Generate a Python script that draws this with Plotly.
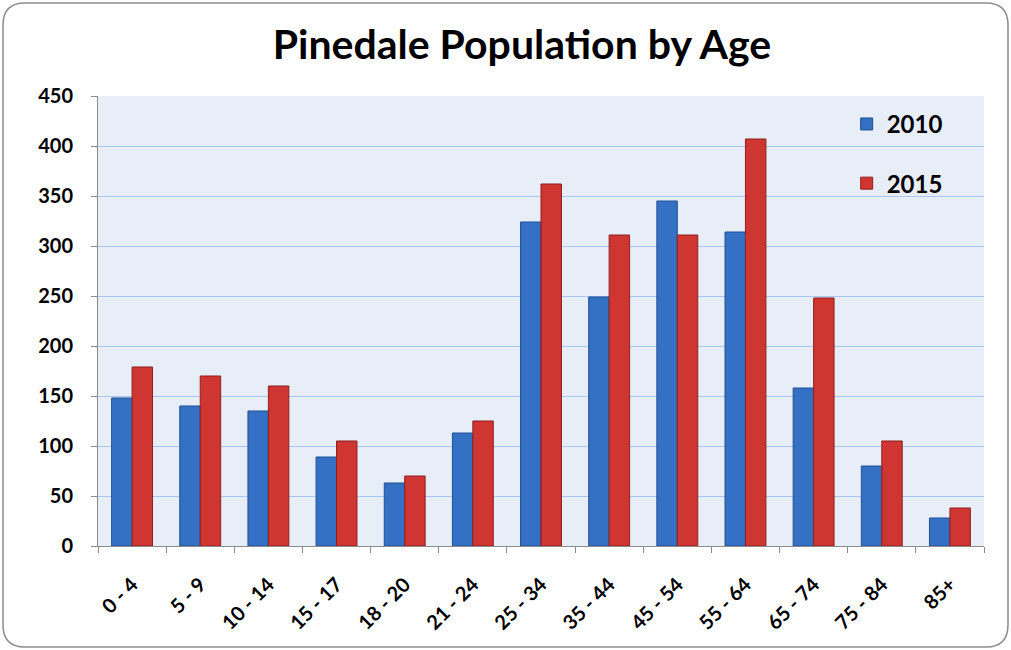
import plotly.graph_objects as go

# Population counts by age bracket
age_groups = ["0 - 4", "5 - 9", "10 - 14", "15 - 17", "18 - 20", "21 - 24", "25 - 34",
              "35 - 44", "45 - 54", "55 - 64", "65 - 74", "75 - 84", "85+"]
pop_2010 = [148, 140, 135, 89, 63, 113, 324, 249, 345, 314, 158, 80, 28]
pop_2015 = [179, 170, 160, 105, 70, 125, 362, 311, 311, 407, 248, 105, 38]
y_ticks = [0, 50, 100, 150, 200, 250, 300, 350, 400, 450]

W, H = 1011, 650
L, R, T, B = 98, 27, 96, 104
pw, ph = W - L - R, H - T - B

FONT = "Lato, 'Open Sans', sans-serif"

fig = go.Figure()
fig.add_trace(go.Bar(
    name="2010", x=age_groups, y=pop_2010, legendgroup="a",
    marker=dict(color="#3470c4", line=dict(color="#1f4f94", width=1)),
))
fig.add_trace(go.Bar(
    name="2015", x=age_groups, y=pop_2015, legendgroup="b",
    marker=dict(color="#cf3632", line=dict(color="#8f1f1d", width=1)),
))


def px(x):
    return (x - L) / pw


def py(y):
    return (H - B - y) / ph


# rounded outer frame of the chart, expressed in paper units
x0, x1, y0, y1, r = 3, 1008, 3, 647, 22
path = (
    f"M {px(x0 + r)},{py(y0)} L {px(x1 - r)},{py(y0)} "
    f"Q {px(x1)},{py(y0)} {px(x1)},{py(y0 + r)} "
    f"L {px(x1)},{py(y1 - r)} Q {px(x1)},{py(y1)} {px(x1 - r)},{py(y1)} "
    f"L {px(x0 + r)},{py(y1)} Q {px(x0)},{py(y1)} {px(x0)},{py(y1 - r)} "
    f"L {px(x0)},{py(y0 + r)} Q {px(x0)},{py(y0)} {px(x0 + r)},{py(y0)} Z"
)

fig.update_layout(
    width=W, height=H,
    margin=dict(l=L, r=R, t=T, b=B),
    paper_bgcolor="white",
    plot_bgcolor="#e8eef8",
    font=dict(family=FONT, color="black"),
    title=dict(text="Pinedale Population by Age", x=522 / W, xanchor="center",
               xref="container", y=1 - 45 / H, yanchor="middle",
               font=dict(size=41, family=FONT, weight="bold")),
    barmode="group", bargap=0.4, bargroupgap=0,
    showlegend=True,
    legend=dict(x=0.845, y=0.987, xanchor="left", yanchor="top",
                bgcolor="rgba(0,0,0,0)", tracegroupgap=25,
                font=dict(size=24, family=FONT, weight="bold"), itemwidth=30),
    xaxis=dict(
        tickangle=-45, tickfont=dict(size=20, family=FONT, weight="bold"),
        showline=True, linecolor="#8c8c8c", linewidth=1,
        ticks="outside", ticklen=6, tickcolor="#8c8c8c", tickson="boundaries",
        ticklabelstandoff=18,
        showgrid=False,
    ),
    yaxis=dict(
        range=[0, 450], tickvals=y_ticks,
        tickfont=dict(size=20, family=FONT, weight="bold"),
        showline=True, linecolor="#8c8c8c", linewidth=1,
        ticks="outside", ticklen=6, tickcolor="#8c8c8c",
        ticklabelstandoff=14,
        gridcolor="#a9c6ec", gridwidth=1, zeroline=False,
    ),
    shapes=[dict(type="path", xref="paper", yref="paper", path=path,
                 line=dict(color="#8c8c8c", width=1.5), layer="below")],
)

fig.write_html("out.html")
